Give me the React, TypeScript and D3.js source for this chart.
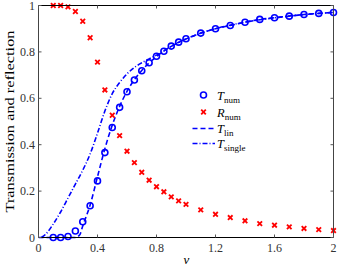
import React from "react";
import * as d3 from "d3";

const W = 338;
const H = 266;

// Numerical transmission (circles)
const tNumV = [0.1,0.15,0.2,0.25,0.3,0.35,0.4,0.45,0.5,0.55,0.6,0.65,0.7,0.75,0.8,0.85,0.9,0.95,1.0,1.1,1.2,1.3,1.4,1.5,1.6,1.7,1.8,1.9,2.0];
const tNumY = [0.0,0.0,0.004,0.028,0.068,0.137,0.244,0.366,0.474,0.561,0.628,0.679,0.719,0.753,0.781,0.803,0.825,0.842,0.857,0.881,0.9,0.914,0.928,0.94,0.947,0.954,0.961,0.966,0.97];

// Numerical reflection (crosses)
const rNumV = tNumV;
const rNumY = [1.0,1.0,0.994,0.974,0.932,0.861,0.756,0.636,0.527,0.439,0.372,0.323,0.281,0.247,0.219,0.197,0.175,0.158,0.143,0.119,0.1,0.086,0.072,0.06,0.053,0.046,0.039,0.034,0.030];

// Linear theory (dashed)
const tLinV = [0,0.25,0.28,0.3,0.35,0.4,0.45,0.5,0.55,0.6,0.65,0.7,0.75,0.8,0.9,1.0,1.1,1.2,1.3,1.4,1.5,1.6,1.7,1.8,1.9,2.0];
const tLinY = [0,0,0.012,0.05,0.14,0.262,0.383,0.484,0.565,0.63,0.68,0.72,0.753,0.78,0.824,0.856,0.881,0.9,0.914,0.928,0.94,0.947,0.954,0.961,0.966,0.97];

// Single-barrier approximation (dash-dot)
const tSingleV = [0.02,0.05,0.1,0.15,0.2,0.25,0.3,0.35,0.4,0.45,0.5,0.55,0.6,0.65,0.7,0.75,0.8,0.9,1.0,1.2,1.4,1.6,1.8,2.0];
const tSingleY = [0,0.015,0.058,0.11,0.17,0.23,0.29,0.36,0.45,0.545,0.62,0.668,0.705,0.733,0.753,0.77,0.786,0.824,0.856,0.9,0.928,0.947,0.961,0.97];

const xTicks = [0, 0.4, 0.8, 1.2, 1.6, 2];
const xTickLabels = ["0", "0.4", "0.8", "1.2", "1.6", "2"];
const yTicks = [0, 0.2, 0.4, 0.6, 0.8, 1];
const yTickLabels = ["0", "0.2", "0.4", "0.6", "0.8", "1"];

const left = 38.5, right = 333.5, top = 5.5, bottom = 237.5;
const x = d3.scaleLinear().domain([0, 2]).range([left, right]);
const y = d3.scaleLinear().domain([0, 1]).range([bottom, top]);

const font = "'Liberation Serif', 'DejaVu Serif', serif";
const blue = "#0000ff";
const red = "#ff0000";

function Cross({ cx, cy, s = 2.3 }: { cx: number; cy: number; s?: number }) {
  return (
    <g stroke={red} strokeWidth={1.8} strokeLinecap="butt">
      <line x1={cx - s} y1={cy - s} x2={cx + s} y2={cy + s} />
      <line x1={cx - s} y1={cy + s} x2={cx + s} y2={cy - s} />
    </g>
  );
}

function Label({ xx, yy, main, sub }: { xx: number; yy: number; main: string; sub: string }) {
  return (
    <text x={xx} y={yy} fontFamily={font} fontSize={12.5} fill="#000">
      <tspan fontStyle="italic">{main}</tspan>
      <tspan fontSize={9} dy={3}>{sub}</tspan>
    </text>
  );
}

export default function App() {
  const line = d3
    .line<[number, number]>()
    .x((d) => x(d[0]))
    .y((d) => y(d[1]))
    .curve(d3.curveMonotoneX);

  const linPts = tLinV.map((v, i) => [v, tLinY[i]] as [number, number]);
  const singlePts = tSingleV.map((v, i) => [v, tSingleY[i]] as [number, number]);

  return (
    <div style={{ position: "fixed", left: 0, top: 0 }}>
      <svg width={W} height={H} style={{ display: "block", background: "#fff" }}>
        <defs>
          <clipPath id="plot">
            <rect x={left} y={top - 4} width={right - left} height={bottom - top + 8} />
          </clipPath>
        </defs>
        {/* lines */}
        <g clipPath="url(#plot)" fill="none">
          <path d={line(singlePts) || ""} stroke={blue} strokeWidth={1.6} strokeDasharray="5,2,1,2" />
          <path d={line(linPts) || ""} stroke={blue} strokeWidth={1.6} strokeDasharray="5,3" />
        </g>
        {/* markers */}
        <g>
          {tNumV.map((v, i) => (
            <circle key={"t" + i} cx={x(v)} cy={y(tNumY[i])} r={3} fill="none" stroke={blue} strokeWidth={1.6} />
          ))}
          {rNumV.map((v, i) => (
            <Cross key={"r" + i} cx={x(v)} cy={y(rNumY[i])} />
          ))}
        </g>
        {/* box */}
        <g fill="none" strokeWidth={1}>
          <line x1={left} y1={top} x2={right} y2={top} stroke="#000" />
          <line x1={left} y1={bottom} x2={right} y2={bottom} stroke="#000" />
          <line x1={left} y1={top} x2={left} y2={bottom} stroke="#444" />
          <line x1={right} y1={top} x2={right} y2={bottom} stroke="#444" />
        </g>
        {/* ticks */}
        <g stroke="#555" strokeWidth={1}>
          {xTicks.map((t) => (
            <g key={"xt" + t}>
              <line x1={x(t)} x2={x(t)} y1={bottom} y2={bottom - 3} />
              <line x1={x(t)} x2={x(t)} y1={top} y2={top + 3} />
            </g>
          ))}
          {yTicks.map((t) => (
            <g key={"yt" + t}>
              <line x1={left} x2={left + 3} y1={y(t)} y2={y(t)} />
              <line x1={right} x2={right - 3} y1={y(t)} y2={y(t)} />
            </g>
          ))}
        </g>
        {/* tick labels */}
        <g fontFamily={font} fontSize={12} fill="#333">
          {xTicks.map((t, i) => (
            <text key={"xl" + t} x={x(t)} y={252} textAnchor="middle">
              {xTickLabels[i]}
            </text>
          ))}
          {yTicks.map((t, i) => (
            <text key={"yl" + t} x={35} y={y(t) + 4} textAnchor="end">
              {yTickLabels[i]}
            </text>
          ))}
        </g>
        {/* axis labels */}
        <text x={186.5} y={264} fontFamily={font} fontSize={13} fontStyle="italic" textAnchor="middle">v</text>
        <text
          transform={`translate(14,${(top + bottom) / 2}) rotate(-90)`}
          fontFamily={font}
          fontSize={12.5}
          textAnchor="middle"
          textLength={182}
          lengthAdjust="spacingAndGlyphs"
        >
          Transmission and reflection
        </text>
        {/* legend */}
        <g>
          <circle cx={203.5} cy={95} r={3} fill="none" stroke={blue} strokeWidth={1.6} />
          <Label xx={217} yy={99.5} main="T" sub="num" />
          <Cross cx={203.5} cy={112} />
          <Label xx={217} yy={116.5} main="R" sub="num" />
          <line x1={192.5} x2={215} y1={128.5} y2={128.5} stroke={blue} strokeWidth={1.6} strokeDasharray="5,3" />
          <Label xx={217} yy={132.5} main="T" sub="lin" />
          <line x1={192.5} x2={215} y1={143.5} y2={143.5} stroke={blue} strokeWidth={1.6} strokeDasharray="5,2,1,2" />
          <Label xx={217} yy={147.5} main="T" sub="single" />
        </g>
      </svg>
    </div>
  );
}
